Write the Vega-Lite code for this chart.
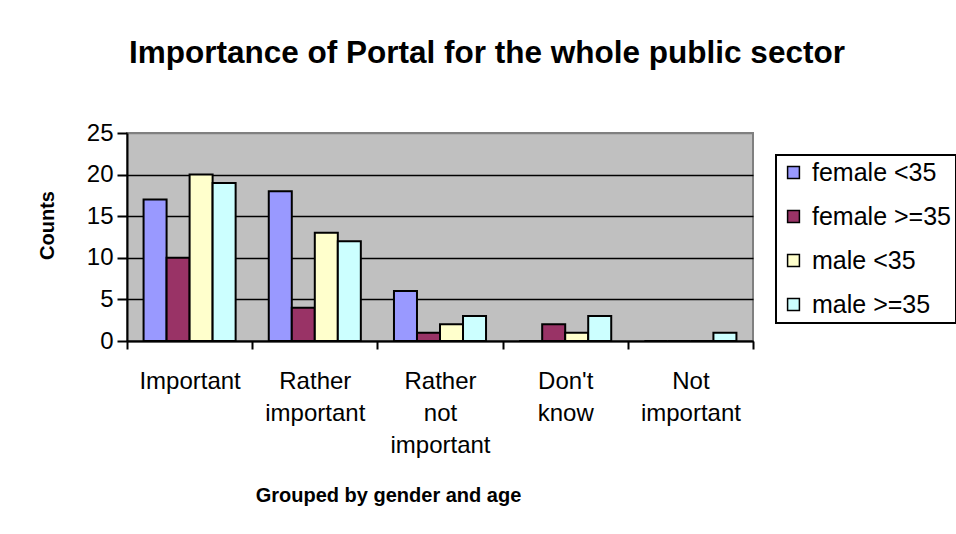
{
  "$schema": "https://vega.github.io/schema/vega-lite/v6.json",
  "width": 626,
  "height": 208,
  "autosize": {"type": "none"},
  "padding": {"left": 127, "top": 133, "right": 203, "bottom": 193},
  "background": "white",
  "title": {
    "text": "Importance of Portal for the whole public sector",
    "font": "Liberation Sans",
    "fontSize": 31.5,
    "fontWeight": "bold",
    "color": "black",
    "anchor": "middle",
    "frame": "group",
    "dx": 47,
    "baseline": "alphabetic",
    "offset": 27
  },
  "data": {
    "values": [
      {"category": "Important", "group": "female <35", "count": 17},
      {"category": "Important", "group": "female >=35", "count": 10},
      {"category": "Important", "group": "male <35", "count": 20},
      {"category": "Important", "group": "male >=35", "count": 19},
      {"category": "Rather important", "group": "female <35", "count": 18},
      {"category": "Rather important", "group": "female >=35", "count": 4},
      {"category": "Rather important", "group": "male <35", "count": 13},
      {"category": "Rather important", "group": "male >=35", "count": 12},
      {"category": "Rather not important", "group": "female <35", "count": 6},
      {"category": "Rather not important", "group": "female >=35", "count": 1},
      {"category": "Rather not important", "group": "male <35", "count": 2},
      {"category": "Rather not important", "group": "male >=35", "count": 3},
      {"category": "Don't know", "group": "female <35", "count": 0},
      {"category": "Don't know", "group": "female >=35", "count": 2},
      {"category": "Don't know", "group": "male <35", "count": 1},
      {"category": "Don't know", "group": "male >=35", "count": 3},
      {"category": "Not important", "group": "female <35", "count": 0},
      {"category": "Not important", "group": "female >=35", "count": 0},
      {"category": "Not important", "group": "male <35", "count": 0},
      {"category": "Not important", "group": "male >=35", "count": 1}
    ]
  },
  "mark": {"type": "bar", "stroke": "black", "strokeWidth": 2, "strokeJoin": "miter"},
  "encoding": {
    "x": {
      "field": "category",
      "type": "nominal",
      "sort": ["Important", "Rather important", "Rather not important", "Don't know", "Not important"],
      "scale": {"paddingInner": 0, "paddingOuter": 0},
      "axis": {
        "title": "Grouped by gender and age",
        "labelAngle": 0,
        "labelExpr": "split(datum.label, ' ')",
        "labelLineHeight": 32,
        "labelPadding": 20,
        "labelBaseline": "top",
        "tickBand": "extent",
        "tickSize": 8,
        "titleX": 261,
        "titleY": 154,
        "titleFontSize": 20,
        "titleBaseline": "middle"
      }
    },
    "xOffset": {
      "field": "group",
      "type": "nominal",
      "sort": ["female <35", "female >=35", "male <35", "male >=35"],
      "scale": {"paddingInner": 0, "paddingOuter": 0.72}
    },
    "y": {
      "field": "count",
      "type": "quantitative",
      "scale": {"domain": [0, 25], "nice": false},
      "axis": {
        "title": "Counts",
        "values": [0, 5, 10, 15, 20, 25],
        "grid": true,
        "gridColor": {"condition": {"test": "datum.value == 25", "value": "#808080"}, "value": "black"},
        "gridWidth": 1.5,
        "tickSize": 10,
        "labelPadding": 4,
        "titleX": -80,
        "titleY": 92,
        "titleFontSize": 20,
        "titleBaseline": "middle"
      }
    },
    "color": {
      "field": "group",
      "type": "nominal",
      "sort": ["female <35", "female >=35", "male <35", "male >=35"],
      "scale": {
        "domain": ["female <35", "female >=35", "male <35", "male >=35"],
        "range": ["#9999FF", "#993366", "#FFFFCC", "#CCFFFF"]
      },
      "legend": {
        "title": null,
        "orient": "none",
        "legendX": 649,
        "legendY": 22,
        "symbolType": "square",
        "symbolSize": 140,
        "symbolStrokeColor": "black",
        "symbolStrokeWidth": 1.5,
        "symbolOpacity": 1,
        "labelFontSize": 25,
        "labelFont": "Liberation Sans",
        "labelColor": "black",
        "labelOffset": 6,
        "rowPadding": 18,
        "padding": 5,
        "strokeColor": "black",
        "fillColor": "white"
      }
    }
  },
  "config": {
    "font": "Liberation Sans",
    "view": {"fill": "#C0C0C0", "stroke": "#808080", "strokeWidth": 2},
    "axis": {
      "domainColor": "black",
      "domainWidth": 2,
      "tickColor": "black",
      "tickWidth": 2,
      "labelFont": "Liberation Sans",
      "labelFontSize": 24,
      "labelColor": "black",
      "titleFont": "Liberation Sans",
      "titleFontSize": 22,
      "titleFontWeight": "bold",
      "titleColor": "black"
    },
    "legend": {"strokeWidth": 2}
  }
}
